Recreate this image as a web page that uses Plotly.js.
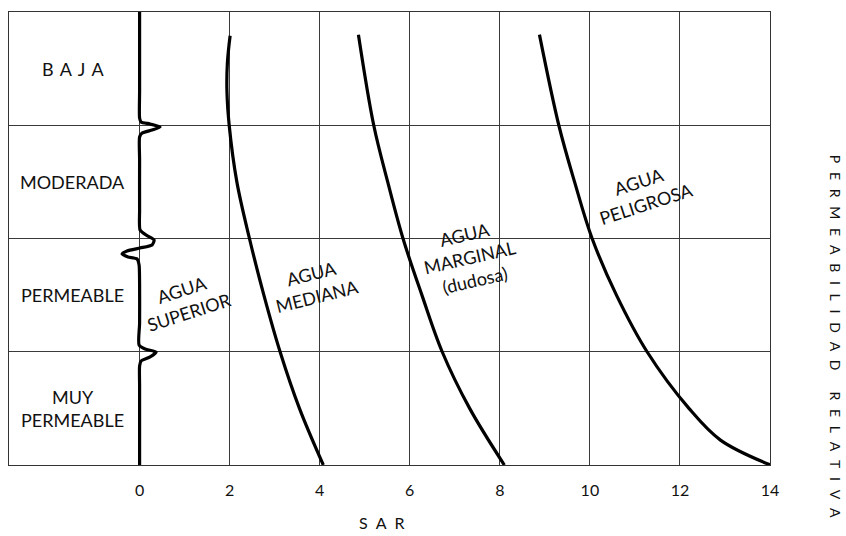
<!DOCTYPE html>
<html>
<head>
<meta charset="utf-8">
<script src="https://cdn.plot.ly/plotly-3.0.1.min.js"></script>
<style>html,body{margin:0;padding:0;background:#fff;}</style>
</head>
<body>
<div id="chart" style="width:846px;height:536px;"></div>
<script>
// ---- data ----
const sarTicks = [0, 2, 4, 6, 8, 10, 12, 14];
const rowBounds = [1, 2, 3];
const rowLevels = [0.5, 1.5, 2.5, 3.5];
const rowLabels = ['MUY<br>PERMEABLE', 'PERMEABLE', 'MODERADA', 'B\u2004A\u2004J\u2004A'];

// boundary line at SAR = 0 with the hand-drawn wiggles
const boundX = [0, 0, 0, 0.033, 0.233, 0.455, 0.278, 0.056, 0, 0, 0, 0.011, 0.144, 0.322, 0.278, 0.011, -0.278, -0.389, -0.256, -0.056, -0.011, 0, 0, -0.011, 0.122, 0.367, 0.233, 0.033, 0, 0, 0];
const boundY = [4, 3.3, 3.064, 3.029, 3.011, 2.984, 2.958, 2.931, 2.896, 2.7, 2.25, 2.075, 2.031, 1.987, 1.943, 1.916, 1.890, 1.863, 1.837, 1.819, 1.766, 1.6, 1.25, 1.060, 1.024, 0.998, 0.954, 0.918, 0.874, 0.7, 0];

// class boundary curves
const superiorX = [2.01, 1.95, 1.94, 1.99, 2.16, 2.44, 2.76, 3.12, 3.55, 4.08];
const superiorY = [3.79, 3.55, 3.3, 3.0, 2.5, 2.0, 1.5, 1.0, 0.5, 0];
const medianaX = [4.86, 5.20, 5.51, 5.85, 6.27, 6.72, 7.33, 8.10];
const medianaY = [3.80, 3.0, 2.5, 2.0, 1.5, 1.0, 0.5, 0];
const marginalX = [8.88, 9.31, 9.66, 10.05, 10.59, 11.27, 12.2, 12.9, 14.01];
const marginalY = [3.80, 3.0, 2.5, 2.0, 1.5, 1.0, 0.5, 0.22, 0];

const classLabels = ['AGUA<br>SUPERIOR', 'AGUA<br>MEDIANA', 'AGUA<br>MARGINAL<br>(dudosa)', 'AGUA<br>PELIGROSA'];

const xTitle = 'S\u2002A\u2002R';
const yWords = ['PERMEABILIDAD', 'RELATIVA'];

// ---- presentation ----
const FONT = 'Lato, "Open Sans", sans-serif';
const classPos = [
  {x: 1.03, y: 1.45, a: -18},
  {x: 3.89, y: 1.59, a: -14},
  {x: 7.32, y: 1.83, a: -13},
  {x: 11.16, y: 2.41, a: -18}
];
const spaced = w => w.split('').join('\u2002\u2009');
const yTitle = yWords.map(spaced).join('\u2003\u2003');

const lineStyle = {color: '#000', width: 3.2, shape: 'spline', smoothing: 1};
const traces = [
  {x: boundX, y: boundY, mode: 'lines', line: Object.assign({}, lineStyle, {smoothing: 0.6}), hoverinfo: 'skip'},
  {x: superiorX, y: superiorY, mode: 'lines', line: lineStyle, hoverinfo: 'skip'},
  {x: medianaX, y: medianaY, mode: 'lines', line: lineStyle, hoverinfo: 'skip'},
  {x: marginalX, y: marginalY, mode: 'lines', line: lineStyle, hoverinfo: 'skip'}
];

const annotations = [];
rowLabels.forEach((t, i) => annotations.push({
  text: t, x: -1.48, y: rowLevels[i], xref: 'x', yref: 'y', showarrow: false,
  xanchor: 'center', yanchor: 'middle',
  font: {family: FONT, size: 18, color: '#111'}, align: 'center'
}));
classLabels.forEach((t, i) => annotations.push({
  text: t, x: classPos[i].x, y: classPos[i].y, xref: 'x', yref: 'y', showarrow: false,
  xanchor: 'center', yanchor: 'middle',
  textangle: classPos[i].a, font: {family: FONT, size: 18, color: '#111'}, align: 'center'
}));
annotations.push({
  text: xTitle, x: 5.38, y: -0.128, xref: 'x', yref: 'paper', showarrow: false,
  xanchor: 'center', yanchor: 'middle', borderpad: 0,
  font: {family: FONT, size: 16, color: '#111'}
});
annotations.push({
  text: yTitle, x: 1.0855, y: 0.285, xref: 'paper', yref: 'paper', showarrow: false,
  xanchor: 'center', yanchor: 'middle', borderpad: 0,
  textangle: 90, font: {family: FONT, size: 14, color: '#111'}
});

const layout = {
  width: 846, height: 536,
  margin: {l: 9, r: 76, t: 12, b: 71, pad: 0},
  paper_bgcolor: '#fff', plot_bgcolor: '#fff',
  showlegend: false,
  xaxis: {
    range: [-2.9, 14], tickvals: sarTicks, ticktext: sarTicks.map(String),
    showgrid: true, gridcolor: '#3a3a3a', gridwidth: 1, zeroline: false,
    showline: true, mirror: true, linecolor: '#333', linewidth: 1,
    ticks: '', ticklabelstandoff: 11,
    tickfont: {family: FONT, size: 16, color: '#111'}, fixedrange: true
  },
  yaxis: {
    range: [0, 4], tickvals: rowBounds, showticklabels: false,
    showgrid: true, gridcolor: '#3a3a3a', gridwidth: 1, zeroline: false,
    showline: true, mirror: true, linecolor: '#333', linewidth: 1,
    ticks: '', fixedrange: true
  },
  annotations: annotations
};

Plotly.newPlot('chart', traces, layout, {displayModeBar: false, staticPlot: true});
</script>
</body>
</html>
